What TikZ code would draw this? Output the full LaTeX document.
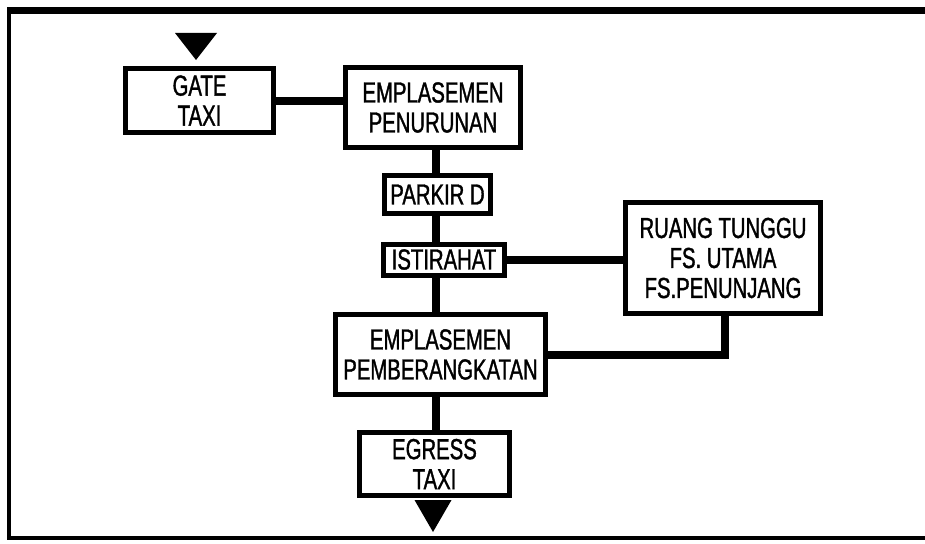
\documentclass[tikz,border=0pt]{standalone}
\usepackage{fontspec}
\setmainfont{Liberation Sans}[FakeStretch=0.70,FakeBold=1.2]
\usepackage{tikz}
\usetikzlibrary{calc}
\tikzset{
  flowbox/.style={rectangle, draw=black, line width=5pt, align=center, inner sep=0pt, font=\fontsize{29}{30}\selectfont},
  flowlink/.style={line width=8pt},
  flowframe/.style={line width=3.5pt}
}

\begin{document}
\begin{tikzpicture}[x=1pt,y=-1pt]
\useasboundingbox (0,0) rectangle (925,543);
% outer frame (right side runs off the page)
\draw[flowframe] (940,538) -- (9,538) -- (9,11);
\draw[line width=7pt] (7,11) -- (940,11);

\node[flowbox, minimum width=148pt, minimum height=64pt] (gate) at (199.5,100.5) {GATE\\TAXI};
\node[flowbox, minimum width=175pt, minimum height=80pt] (turun) at (433,107.5) {EMPLASEMEN\\PENURUNAN};
\node[flowbox, minimum width=106pt, minimum height=38pt] (parkir) at (437.5,194.5) {PARKIR D};
\node[flowbox, minimum width=121pt, minimum height=31pt] (istirahat) at (444,259.5) {ISTIRAHAT};
\node[flowbox, minimum width=195pt, minimum height=111pt] (tunggu) at (723,258) {RUANG TUNGGU\\FS. UTAMA\\FS.PENUNJANG};
\node[flowbox, minimum width=210pt, minimum height=80pt] (berangkat) at (440.5,354.5) {EMPLASEMEN\\PEMBERANGKATAN};
\node[flowbox, minimum width=150pt, minimum height=63pt] (egress) at (434.5,464) {EGRESS\\TAXI};

\coordinate (spine) at (436,0);
\coordinate (masuk) at (196,60);
\coordinate (keluar) at (433,532);

% entry / exit marks
\fill (masuk) -- ++(-21,-27) -- ++(42,0) -- cycle;
\fill (keluar) -- ++(-18.5,-32) -- ++(37,0) -- cycle;

\draw[flowlink] (gate.east) -- (gate.east -| turun.west);
\draw[flowlink] (turun.south -| spine) -- (parkir.north -| spine);
\draw[flowlink] (parkir.south -| spine) -- (istirahat.north -| spine);
\draw[flowlink] (istirahat.south -| spine) -- (berangkat.north -| spine);
\draw[flowlink] (berangkat.south -| spine) -- (egress.north -| spine);
\draw[flowlink] (istirahat) -- (istirahat -| tunggu.west);
\draw[flowlink] ([xshift=2pt]tunggu.south) |- (berangkat.east);
\end{tikzpicture}
\end{document}
